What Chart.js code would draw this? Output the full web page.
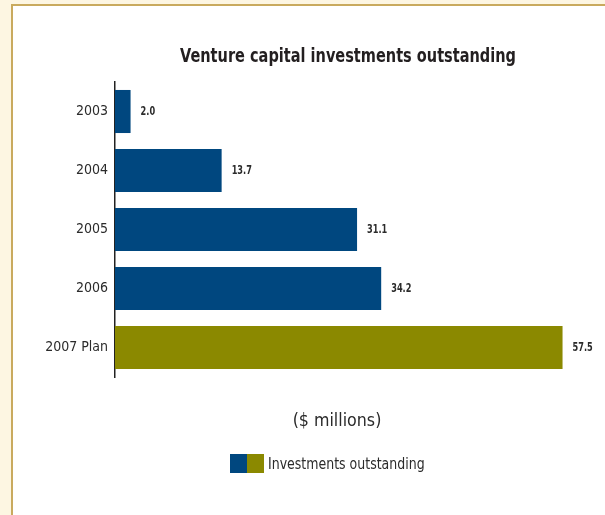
<!DOCTYPE html>
<html>
<head>
<meta charset="utf-8">
<script src="https://cdn.jsdelivr.net/npm/chart.js@4.4.1/dist/chart.umd.min.js"></script>
<style>
  body { margin: 0; background: #fdf6e2; }
  #frame {
    position: absolute; left: 11px; top: 4px;
    width: 640px; height: 560px;
    border: 2px solid #c9aa5e; background: #fff;
  }
  #wrap { position: absolute; left: 0; top: 0; width: 605px; height: 515px; }
</style>
</head>
<body>
<div id="frame"></div>
<div id="wrap"><canvas id="chart"></canvas></div>
<script>
const years = ["2003", "2004", "2005", "2006", "2007 Plan"];
const outstanding = [2.0, 13.7, 31.1, 34.2, 57.5];
const barColors = ["#00477f", "#00477f", "#00477f", "#00477f", "#8b8900"];

const FONT = "'DejaVu Sans Condensed', 'Roboto', sans-serif";
const TEXT = "#2b2b2b";

// squeeze text horizontally to get the narrow look
function narrowText(ctx, text, x, y, sx) {
  ctx.save();
  ctx.translate(x, y);
  ctx.scale(sx, 1);
  ctx.fillText(text, 0, 0);
  ctx.restore();
}

// value labels at the end of each bar
const valueLabels = {
  id: "valueLabels",
  afterDatasetsDraw(chart) {
    const ctx = chart.ctx;
    const meta = chart.getDatasetMeta(0);
    ctx.save();
    ctx.font = "bold 12px " + FONT;
    ctx.fillStyle = TEXT;
    ctx.textBaseline = "middle";
    meta.data.forEach((bar, i) => {
      narrowText(ctx, outstanding[i].toFixed(1), bar.x + 10, bar.y, 0.76);
    });
    ctx.restore();
  },
};

// title, unit note and the two-colour legend
const decorations = {
  id: "decorations",
  afterDraw(chart) {
    const ctx = chart.ctx;
    ctx.save();
    ctx.fillStyle = "#231f20";
    ctx.textAlign = "center";
    ctx.textBaseline = "middle";
    ctx.font = "bold 19px " + FONT;
    narrowText(ctx, "Venture capital investments outstanding", 348, 57, 0.85);

    ctx.fillStyle = TEXT;
    ctx.font = "18px " + FONT;
    narrowText(ctx, "($ millions)", 337, 421, 0.98);

    ctx.fillStyle = barColors[0];
    ctx.fillRect(230, 454, 17, 19);
    ctx.fillStyle = barColors[4];
    ctx.fillRect(247, 454, 17, 19);
    ctx.fillStyle = TEXT;
    ctx.textAlign = "left";
    ctx.font = "15px " + FONT;
    narrowText(ctx, "Investments outstanding", 268, 465, 0.93);
    ctx.restore();
  },
};

new Chart(document.getElementById("chart"), {
  type: "bar",
  data: {
    labels: years,
    datasets: [
      {
        label: "Investments outstanding",
        data: outstanding,
        backgroundColor: barColors,
        categoryPercentage: 1,
        barPercentage: 0.73,
      },
    ],
  },
  options: {
    indexAxis: "y",
    responsive: true,
    maintainAspectRatio: false,
    animation: false,
    layout: { padding: { top: 82, right: 23, bottom: 138, left: 0 } },
    plugins: {
      legend: { display: false },
      tooltip: { enabled: false },
    },
    scales: {
      x: {
        display: false,
        min: 0,
        max: 60,
      },
      y: {
        grid: { display: false, drawTicks: false },
        border: { display: true, color: "#222", width: 1.5 },
        ticks: {
          color: TEXT,
          padding: 7,
          font: { family: FONT, size: 14 },
        },
        afterFit(scale) {
          scale.width = 115;
        },
      },
    },
  },
  plugins: [valueLabels, decorations],
});
</script>
</body>
</html>
